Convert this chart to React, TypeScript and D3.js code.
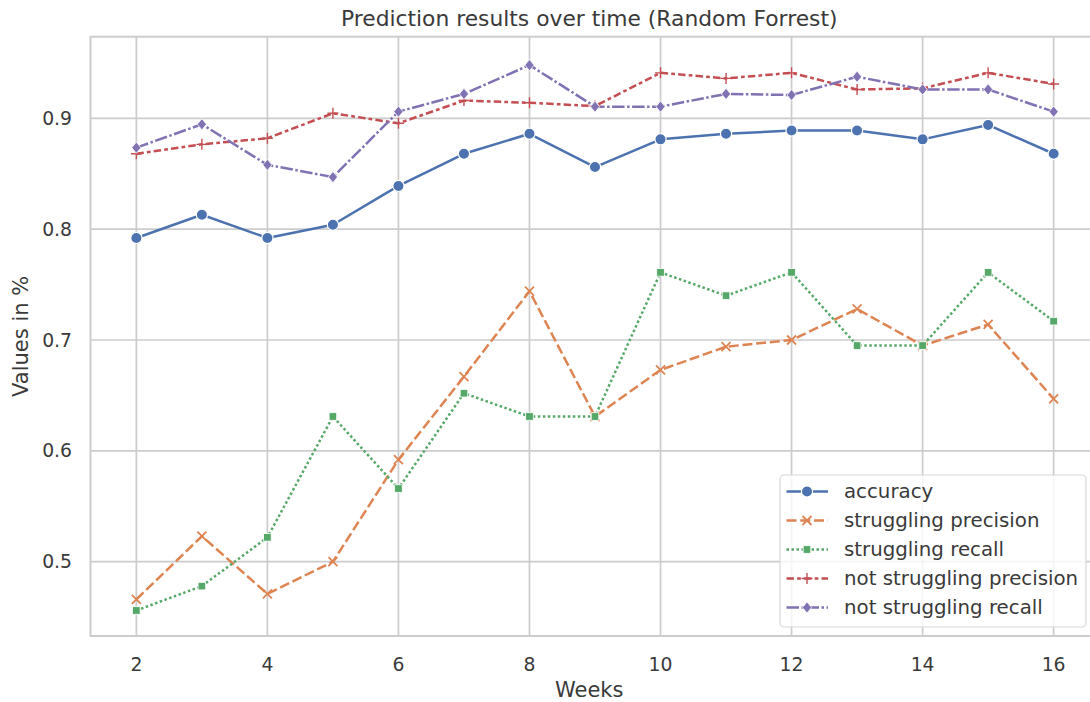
import React from "react";
import * as d3 from "d3";

const weeks = [2, 3, 4, 5, 6, 7, 8, 9, 10, 11, 12, 13, 14, 15, 16];
const accuracy = [0.792, 0.813, 0.792, 0.804, 0.839, 0.868, 0.886, 0.856, 0.881, 0.886, 0.889, 0.889, 0.881, 0.894, 0.868];
const strugglingPrecision = [0.466, 0.523, 0.471, 0.5, 0.592, 0.667, 0.744, 0.631, 0.673, 0.694, 0.7, 0.728, 0.695, 0.714, 0.647];
const strugglingRecall = [0.456, 0.478, 0.522, 0.631, 0.566, 0.652, 0.631, 0.631, 0.761, 0.74, 0.761, 0.695, 0.695, 0.761, 0.717];
const notStrugglingPrecision = [0.868, 0.8765, 0.882, 0.9045, 0.8955, 0.916, 0.914, 0.911, 0.941, 0.936, 0.941, 0.926, 0.927, 0.941, 0.931];
const notStrugglingRecall = [0.8735, 0.8946, 0.858, 0.847, 0.906, 0.922, 0.948, 0.9105, 0.9105, 0.922, 0.921, 0.9375, 0.926, 0.926, 0.906];

const xTicks = [2, 4, 6, 8, 10, 12, 14, 16];
const yTicks = [0.5, 0.6, 0.7, 0.8, 0.9];

const seriesNames = ["accuracy", "struggling precision", "struggling recall", "not struggling precision", "not struggling recall"];
const seriesValues = [accuracy, strugglingPrecision, strugglingRecall, notStrugglingPrecision, notStrugglingRecall];
const colors = ["#4C72B0", "#DD8452", "#55A868", "#C44E52", "#8172B3"];
const markerKinds = ["circle", "x", "square", "plus", "diamond"];

const LW = 2.5;
const dashes = ["", `${4 * LW},${1.5 * LW}`, `${1 * LW},${1 * LW}`, `${3 * LW},${1.25 * LW},${1.5 * LW},${1.25 * LW}`, `${5 * LW},${1 * LW},${1 * LW},${1 * LW}`];

const FONT = "'DejaVu Sans', sans-serif";
const TEXT = "#3a3a3a";
const GRID = "#cccccc";

const left = 90.5;
const top = 36.7;
const bottom = 636;
const right = 1095;

function Marker({ kind, x, y, color }: { kind: string; x: number; y: number; color: string }) {
  if (kind === "circle") return <circle cx={x} cy={y} r={5.6} fill={color} stroke="#fff" strokeWidth={1.2} />;
  if (kind === "square") return <rect x={x - 3.8} y={y - 3.8} width={7.6} height={7.6} fill={color} stroke="#fff" strokeWidth={0.8} />;
  if (kind === "diamond")
    return <path d={`M${x},${y - 5.6}L${x + 4.6},${y}L${x},${y + 5.6}L${x - 4.6},${y}Z`} fill={color} stroke="#fff" strokeWidth={0.8} />;
  if (kind === "x")
    return <path d={`M${x - 4.5},${y - 4.5}L${x + 4.5},${y + 4.5}M${x - 4.5},${y + 4.5}L${x + 4.5},${y - 4.5}`} stroke={color} strokeWidth={1.8} fill="none" />;
  return <path d={`M${x - 5.5},${y}L${x + 5.5},${y}M${x},${y - 5.5}L${x},${y + 5.5}`} stroke={color} strokeWidth={1.4} fill="none" />;
}

export default function App() {
  const x = d3.scaleLinear().domain([1.3, 16.7]).range([left, 1099.5]);
  const y = d3.scaleLinear().domain([0.433, 0.9736]).range([bottom, top]);
  const line = d3
    .line<number>()
    .x((_, i) => x(weeks[i]))
    .y((d) => y(d));

  const legendX = 780;
  const legendY = 475;
  const legendW = 306;
  const legendH = 152;
  const rowY = (i: number) => 491.5 + i * 29;

  return (
    <svg width={1090} height={702} style={{ position: "absolute", left: 0, top: 0, background: "#fff" }} fontFamily={FONT}>
      <rect x={0} y={0} width={1090} height={702} fill="#fff" />
      <defs>
        <clipPath id="plotclip">
          <rect x={left} y={top} width={right - left} height={bottom - top} />
        </clipPath>
      </defs>
      {xTicks.map((t) => (
        <line key={"gx" + t} x1={x(t)} x2={x(t)} y1={top} y2={bottom} stroke={GRID} strokeWidth={1.7} />
      ))}
      {yTicks.map((t) => (
        <line key={"gy" + t} x1={left} x2={right} y1={y(t)} y2={y(t)} stroke={GRID} strokeWidth={1.7} />
      ))}
      <rect x={left} y={top} width={right - left} height={bottom - top} fill="none" stroke={GRID} strokeWidth={2} />

      <g clipPath="url(#plotclip)">
        {seriesValues.map((vals, si) => (
          <path key={"l" + si} d={line(vals) || ""} fill="none" stroke={colors[si]} strokeWidth={LW} strokeDasharray={dashes[si]} strokeLinejoin="round" />
        ))}
        {seriesValues.map((vals, si) =>
          vals.map((v, i) => <Marker key={`m${si}-${i}`} kind={markerKinds[si]} x={x(weeks[i])} y={y(v)} color={colors[si]} />)
        )}
      </g>

      {xTicks.map((t) => (
        <text key={"tx" + t} x={x(t)} y={664} textAnchor="middle" dominantBaseline="central" fontSize={18.8} fill={TEXT}>
          {t}
        </text>
      ))}
      {yTicks.map((t) => (
        <text key={"ty" + t} x={72} y={y(t)} textAnchor="end" dominantBaseline="central" fontSize={18.8} fill={TEXT}>
          {d3.format(".1f")(t)}
        </text>
      ))}

      <text x={(left + 1088) / 2} y={690} textAnchor="middle" dominantBaseline="central" fontSize={21} fill={TEXT}>
        Weeks
      </text>
      <text transform={`translate(21,${(top + bottom) / 2}) rotate(-90)`} textAnchor="middle" dominantBaseline="central" fontSize={21} fill={TEXT}>
        Values in %
      </text>
      <text x={(left + 1088) / 2} y={18} textAnchor="middle" dominantBaseline="central" fontSize={21.8} fill={TEXT}>
        Prediction results over time (Random Forrest)
      </text>

      <rect x={legendX} y={legendY} width={legendW} height={legendH} rx={4} fill="#fff" fillOpacity={0.8} stroke="#d8d8d8" strokeWidth={1.2} />
      {seriesNames.map((name, i) => (
        <g key={"lg" + i}>
          <line x1={786.5} x2={828} y1={rowY(i)} y2={rowY(i)} stroke={colors[i]} strokeWidth={LW} strokeDasharray={dashes[i]} />
          <Marker kind={markerKinds[i]} x={807} y={rowY(i)} color={colors[i]} />
          <text x={844} y={rowY(i)} dominantBaseline="central" fontSize={19.8} fill={TEXT}>
            {name}
          </text>
        </g>
      ))}
    </svg>
  );
}
